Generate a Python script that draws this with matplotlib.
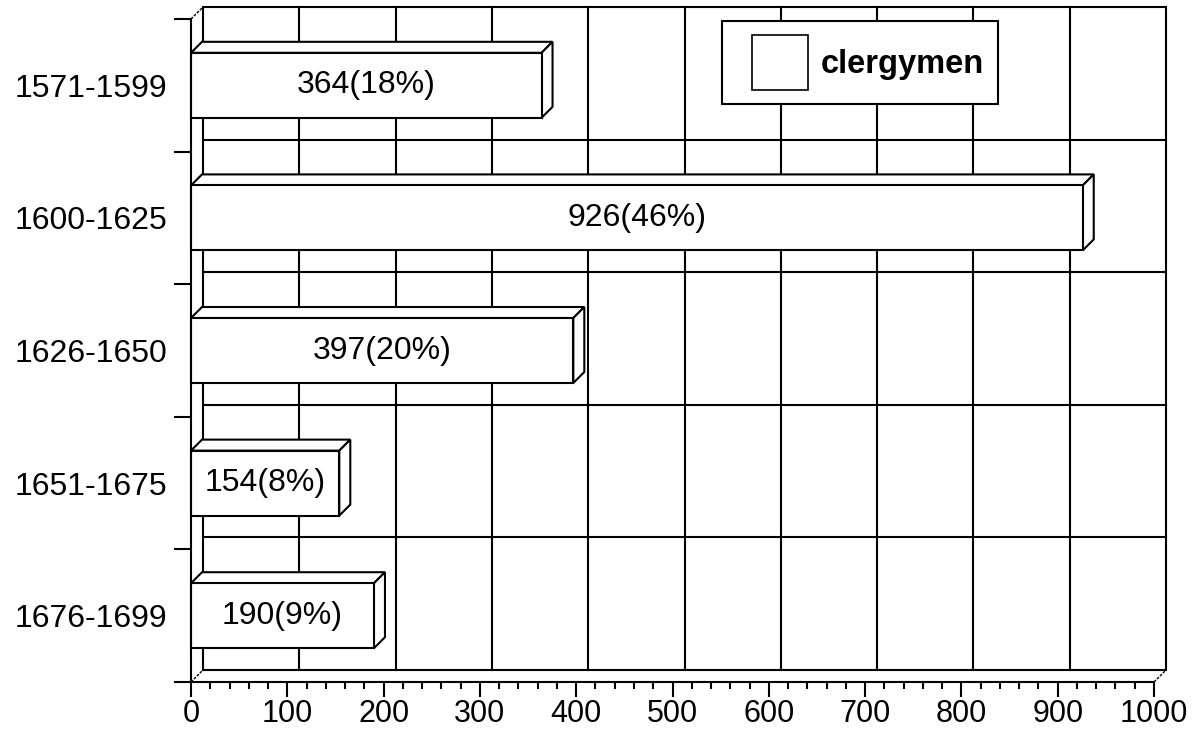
import matplotlib
matplotlib.use("Agg")
import matplotlib.pyplot as plt
from matplotlib.patches import Polygon, Rectangle
from matplotlib.legend_handler import HandlerPatch

periods = ["1571-1599", "1600-1625", "1626-1650", "1651-1675", "1676-1699"]
clergymen = [364, 926, 397, 154, 190]
shares = [18, 46, 20, 8, 9]
x_ticks = list(range(0, 1001, 100))

W, H = 1199, 733
fig = plt.figure(figsize=(W / 100, H / 100), dpi=100)
ax = fig.add_axes([191 / W, 51 / H, 963 / W, 663 / H])
ax.set_xlim(0, 1000)
ax.set_ylim(len(periods), 0)

# oblique depth of the box (walls) and of the bars, in data units
px_x = 963 / 1000
px_y = 663 / len(periods)
DX, DY = 12 / px_x, 12 / px_y
BDX, BDY = 11 / px_x, 11 / px_y
LW = 1.5
num_font = ["Liberation Sans", "DejaVu Sans"]
FS = 23

n = len(periods)
# back wall
ax.add_patch(Rectangle((DX, -DY), 1000, n, facecolor="white", edgecolor="black",
                       lw=LW, zorder=1, clip_on=False))
for v in x_ticks[1:-1]:
    ax.plot([v + DX, v + DX], [-DY, n - DY], color="black", lw=LW, zorder=1.5, clip_on=False)
for b in range(1, n):
    ax.plot([DX, 1000 + DX], [b - DY, b - DY], color="black", lw=LW, zorder=1.5, clip_on=False)
# side wall / floor edges
for x0, y0 in [(0, 0), (0, n), (1000, n)]:
    ax.plot([x0, x0 + DX], [y0, y0 - DY], color="black", lw=1.0, ls=(0, (2, 1)),
            zorder=1.5, clip_on=False)

# 3-D bars: front face, top face, end face
h = 0.245
for i, (v, s) in enumerate(zip(clergymen, shares)):
    c = i + 0.5
    top = c - h
    bot = c + h
    top_face = [(0, top), (v, top), (v + BDX, top - BDY), (BDX, top - BDY)]
    end_face = [(v, top), (v + BDX, top - BDY), (v + BDX, bot - BDY), (v, bot)]
    for pts in (top_face, end_face):
        ax.add_patch(Polygon(pts, closed=True, facecolor="white", edgecolor="black",
                             lw=LW, zorder=3, clip_on=False))
    ax.add_patch(Rectangle((0, top), v, bot - top, facecolor="white", edgecolor="black",
                           lw=LW, zorder=4, clip_on=False))
    ax.text(v / 2, c, f"{v}({s}%)", ha="center", va="center", fontsize=FS,
            family=num_font, zorder=5)

# axes: value axis at the bottom, category axis on the left
for side in ("top", "right"):
    ax.spines[side].set_visible(False)
for side in ("left", "bottom"):
    ax.spines[side].set_linewidth(LW)
    ax.spines[side].set_zorder(6)
ax.patch.set_visible(False)

ax.set_xticks(x_ticks)
ax.set_xticklabels([str(t) for t in x_ticks], family=num_font, fontsize=22)
ax.set_xticks(range(0, 1001, 20), minor=True)
ax.tick_params(axis="x", which="major", direction="out", length=11, width=LW, pad=1)
ax.tick_params(axis="x", which="minor", direction="out", length=5, width=LW)

ax.set_yticks(range(n + 1))
ax.set_yticklabels([])
ax.set_yticks([i + 0.5 for i in range(n)], minor=True)
ax.set_yticklabels(periods, minor=True, family=num_font, fontsize=FS)
ax.tick_params(axis="y", which="major", direction="out", length=12, width=LW)
ax.tick_params(axis="y", which="minor", length=0, pad=17)


def square_patch(legend, orig_handle, xdescent, ydescent, width, height, fontsize):
    side = height
    return Rectangle((-xdescent + width - side, -ydescent), side, side)


handle = Rectangle((0, 0), 1, 1, facecolor="white", edgecolor="black", lw=1.2)
leg = ax.legend([handle], ["clergymen"], loc="upper left",
                bbox_to_anchor=(722 / W, 1 - 21 / H), bbox_transform=fig.transFigure,
                borderaxespad=0, frameon=True, fancybox=False, framealpha=1,
                edgecolor="black", prop={"family": "Liberation Sans", "weight": "bold", "size": 23.5},
                handlelength=2.2, handleheight=2.25, borderpad=0.42, handletextpad=0.42,
                handler_map={Rectangle: HandlerPatch(patch_func=square_patch)})
leg.get_frame().set_linewidth(LW)
leg.set_zorder(7)

fig.savefig("out.png", dpi=100)
